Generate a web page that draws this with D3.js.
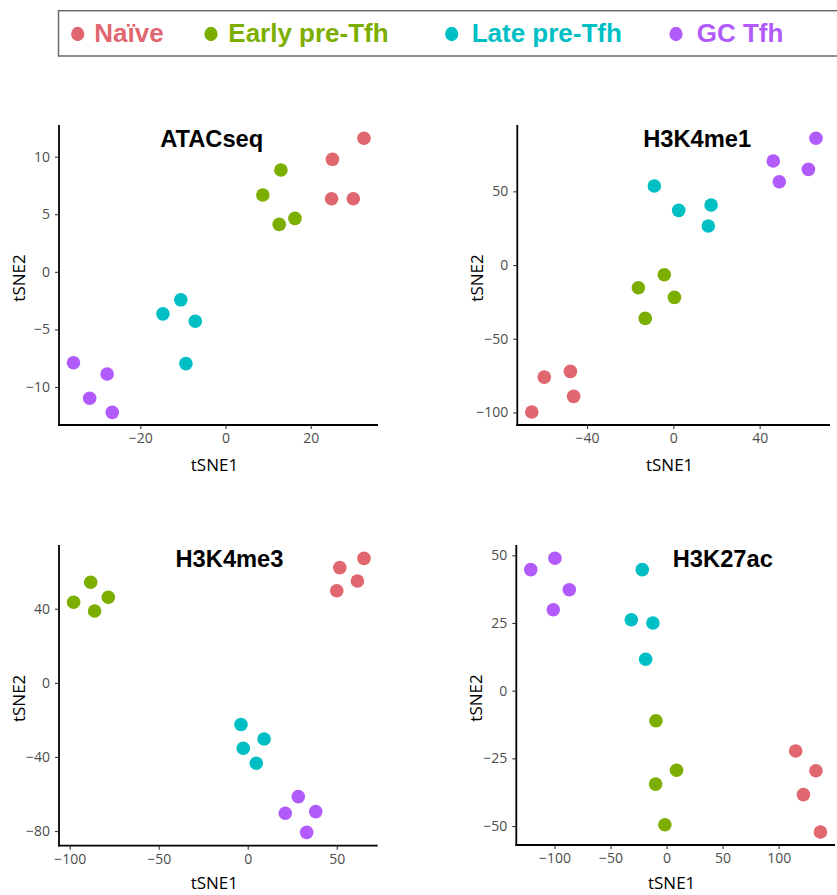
<!DOCTYPE html>
<html>
<head>
<meta charset="utf-8">
<script src="https://cdn.jsdelivr.net/npm/d3@7"></script>
<style>
  html, body { margin: 0; padding: 0; background: #fff; }
  svg { display: block; }
</style>
</head>
<body>
<svg id="chart" width="837" height="895"></svg>
<script>
// ---------- data ----------
const groups = ["Naïve", "Early pre-Tfh", "Late pre-Tfh", "GC Tfh"];
const groupColors = ["#E0666F", "#7CAE00", "#00BFC4", "#B25BFB"];

// [group index, tSNE1, tSNE2]
const atacseqPoints = [
  [0, 32.5, 11.6], [0, 25.1, 9.77], [0, 24.9, 6.35], [0, 30.0, 6.35],
  [1, 13.0, 8.84], [1, 8.76, 6.67], [1, 12.6, 4.12], [1, 16.3, 4.64],
  [2, -10.5, -2.43], [2, -14.7, -3.65], [2, -7.1, -4.29], [2, -9.3, -7.97],
  [3, -35.7, -7.9], [3, -27.8, -8.87], [3, -31.9, -10.98], [3, -26.6, -12.2]
];
const h3k4me1Points = [
  [0, -59.8, -76.0], [0, -47.7, -72.1], [0, -46.2, -89.1], [0, -65.6, -99.7],
  [1, -4.2, -6.6], [1, -16.2, -15.4], [1, 0.5, -21.9], [1, -13.0, -36.2],
  [2, -8.8, 53.6], [2, 2.5, 37.1], [2, 17.5, 40.7], [2, 16.2, 26.5],
  [3, 66.1, 86.0], [3, 46.3, 70.6], [3, 49.1, 56.5], [3, 62.6, 64.9]
];
const h3k4me3Points = [
  [0, 65.3, 67.2], [0, 51.7, 62.2], [0, 61.6, 55.0], [0, 50.0, 49.7],
  [1, -88.2, 54.3], [1, -97.8, 43.5], [1, -78.3, 46.2], [1, -86.0, 38.8],
  [2, -3.8, -22.5], [2, 9.2, -30.3], [2, -2.5, -35.3], [2, 4.8, -43.4],
  [3, 28.4, -61.4], [3, 21.1, -70.4], [3, 38.2, -69.5], [3, 33.1, -80.7]
];
const h3k27acPoints = [
  [0, 115.2, -22.3], [0, 133.3, -29.6], [0, 122.1, -38.4], [0, 137.3, -52.2],
  [1, -9.5, -11.1], [1, 8.9, -29.4], [1, -9.8, -34.5], [1, -1.5, -49.5],
  [2, -21.7, 44.7], [2, -31.5, 26.2], [2, -12.2, 25.0], [2, -18.7, 11.6],
  [3, -121.2, 44.7], [3, -99.6, 48.9], [3, -86.8, 37.3], [3, -101.1, 29.9]
];

const panelTitles = ["ATACseq", "H3K4me1", "H3K4me3", "H3K27ac"];
const xDomains = [[-39.1, 35.8], [-72.3, 72.6], [-106, 73], [-134.1, 150.3]];
const yDomains = [[-13.3, 12.75], [-108.5, 95], [-87.9, 74.4], [-57, 53.8]];
const xTickValues = [[-20, 0, 20], [-40, 0, 40], [-100, -50, 0, 50], [-100, -50, 0, 50, 100]];
const yTickValues = [[-10, -5, 0, 5, 10], [-100, -50, 0, 50], [-80, -40, 0, 40], [-50, -25, 0, 25, 50]];
const xAxisTitle = "tSNE1";
const yAxisTitle = "tSNE2";

// ---------- layout ----------
const panelBoxes = [
  { left: 59, right: 378, top: 125, bottom: 425, titleX: 211.7, xTitleGap: 46 },
  { left: 517.3, right: 830, top: 125, bottom: 425, titleX: 697.2, xTitleGap: 46 },
  { left: 59, right: 377.7, top: 545, bottom: 845.7, titleX: 229.5, xTitleGap: 43.5 },
  { left: 516.3, right: 835, top: 545, bottom: 845, titleX: 722.8, xTitleGap: 44 }
];
const pointSets = [atacseqPoints, h3k4me1Points, h3k4me3Points, h3k27acPoints];

const svg = d3.select("#chart");
const fmt = d => (d < 0 ? "\u2212" + Math.abs(d) : String(d));

panelBoxes.forEach((b, i) => {
  const x = d3.scaleLinear().domain(xDomains[i]).range([b.left, b.right]);
  const y = d3.scaleLinear().domain(yDomains[i]).range([b.bottom, b.top]);
  const g = svg.append("g");

  // x axis
  const xa = g.append("g")
    .attr("transform", `translate(0,${b.bottom})`)
    .call(d3.axisBottom(x).tickValues(xTickValues[i]).tickFormat(fmt).tickSize(4).tickSizeOuter(0).tickPadding(4));
  // y axis
  const ya = g.append("g")
    .attr("transform", `translate(${b.left},0)`)
    .call(d3.axisLeft(y).tickValues(yTickValues[i]).tickFormat(fmt).tickSize(4).tickSizeOuter(0).tickPadding(5));

  [xa, ya].forEach(a => {
    a.select(".domain").attr("stroke", "#000").attr("stroke-width", 1.8);
    a.selectAll(".tick line").attr("stroke", "#333").attr("stroke-width", 1.1);
    a.selectAll(".tick text")
      .attr("fill", "#4D4D4D")
      .style("font-family", "'Open Sans', sans-serif")
      .style("font-size", "14px");
  });
  // make axis lines meet at corner
  xa.select(".domain").attr("d", `M${b.left - 0.9},0H${b.right}`);
  ya.select(".domain").attr("d", `M0,${b.top}V${b.bottom + 0.9}`);

  // axis titles
  g.append("text")
    .attr("x", (b.left + b.right) / 2 - 4)
    .attr("y", b.bottom + b.xTitleGap)
    .attr("text-anchor", "middle")
    .style("font-family", "'Open Sans', sans-serif")
    .style("font-size", "17px")
    .attr("fill", "#000")
    .text(xAxisTitle);
  const cy = (b.top + b.bottom) / 2 + 3;
  g.append("text")
    .attr("transform", `translate(${b.left - 34},${cy}) rotate(-90)`)
    .attr("text-anchor", "middle")
    .style("font-family", "'Open Sans', sans-serif")
    .style("font-size", "17px")
    .attr("fill", "#000")
    .text(yAxisTitle);

  // points
  g.append("g").selectAll("circle")
    .data(pointSets[i])
    .join("circle")
    .attr("cx", d => x(d[1]))
    .attr("cy", d => y(d[2]))
    .attr("r", 6.8)
    .attr("fill", d => groupColors[d[0]]);

  // title
  g.append("text")
    .attr("x", b.titleX)
    .attr("y", b.top + 21.7)
    .attr("text-anchor", "middle")
    .style("font-family", "'Liberation Sans', Arial, sans-serif")
    .style("font-weight", "bold")
    .style("font-size", "23.7px")
    .attr("fill", "#000")
    .text(panelTitles[i]);
});

// ---------- legend ----------
const legendDotX = [77.7, 211, 451.7, 676];
const legendTextX = [94.3, 228.3, 471.7, 696.7];
const lg = svg.append("g");
lg.append("rect")
  .attr("x", 58.5).attr("y", 10.7)
  .attr("width", 790).attr("height", 45.3)
  .attr("fill", "#fff")
  .attr("stroke", "#6b6b6b")
  .attr("stroke-width", 1.5);
groups.forEach((name, i) => {
  lg.append("ellipse")
    .attr("cx", legendDotX[i]).attr("cy", 34)
    .attr("rx", 6.6).attr("ry", 7.2)
    .attr("fill", groupColors[i]);
  lg.append("text")
    .attr("x", legendTextX[i]).attr("y", 42)
    .style("font-family", "'Liberation Sans', Arial, sans-serif")
    .style("font-weight", "bold")
    .style("font-size", "26px")
    .attr("fill", groupColors[i])
    .text(name);
});
</script>
</body>
</html>
